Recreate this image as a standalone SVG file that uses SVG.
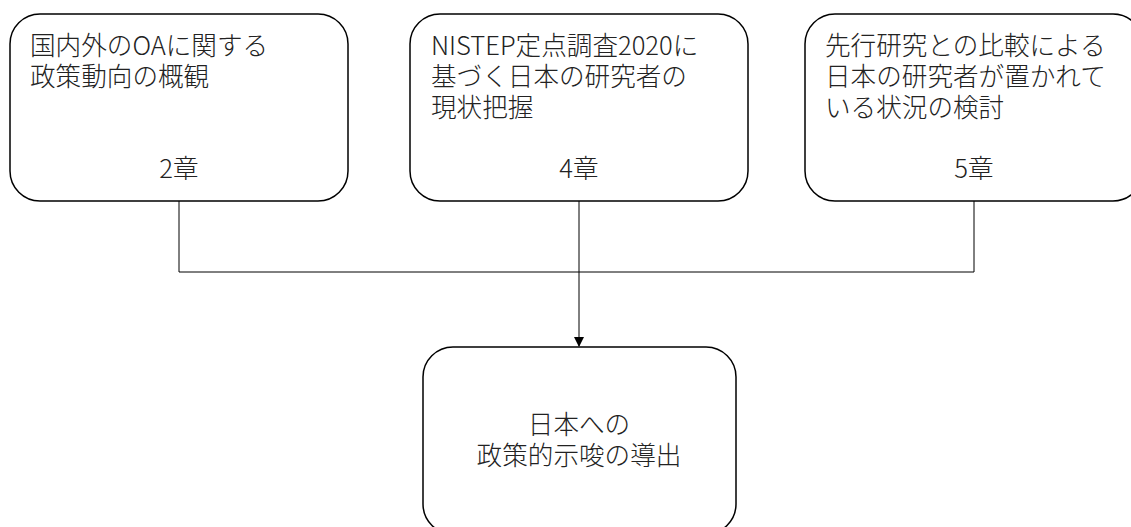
<svg xmlns="http://www.w3.org/2000/svg" width="1131" height="527" viewBox="0 0 1131 527">
<defs>
<style>
.box{fill:#fff;stroke:#000;stroke-width:1.5}
.t{font-family:"Noto Sans CJK JP","Noto Sans",sans-serif;font-size:25.6px;font-weight:300;fill:#222}
.c{text-anchor:middle}
.ln{fill:none;stroke:#000;stroke-width:1}
</style>
<marker id="arr" markerWidth="10" markerHeight="10" refX="9" refY="5" orient="auto" markerUnits="userSpaceOnUse">
<path d="M0,0 L10,5 L0,10 Z" fill="#000"/>
</marker>
</defs>
<rect width="1131" height="527" fill="#fff"/>
<g id="connectors">
<polyline class="ln" points="179,201 179,272 974,272 974,201"/>
<line class="ln" x1="579" y1="201" x2="579" y2="346" marker-end="url(#arr)"/>
</g>
<g id="n1">
<rect class="box" x="10" y="14" width="338" height="187" rx="30" ry="30"/>
<text class="t" x="30" y="55">国内外のOAに関する</text>
<text class="t" x="30" y="86">政策動向の概観</text>
<text class="t c" x="179" y="178">2章</text>
</g>
<g id="n2">
<rect class="box" x="410" y="14" width="338" height="187" rx="30" ry="30"/>
<text class="t" x="431" y="55">NISTEP定点調査2020に</text>
<text class="t" x="431" y="86">基づく日本の研究者の</text>
<text class="t" x="431" y="117">現状把握</text>
<text class="t c" x="579" y="178">4章</text>
</g>
<g id="n3">
<rect class="box" x="805" y="14" width="338" height="187" rx="30" ry="30"/>
<text class="t" x="825" y="55">先行研究との比較による</text>
<text class="t" x="825" y="86">日本の研究者が置かれて</text>
<text class="t" x="825" y="117">いる状況の検討</text>
<text class="t c" x="974" y="178">5章</text>
</g>
<g id="n4">
<rect class="box" x="423" y="347" width="313" height="187" rx="30" ry="30"/>
<text class="t c" x="579" y="434">日本への</text>
<text class="t c" x="579" y="465">政策的示唆の導出</text>
</g>
</svg>
